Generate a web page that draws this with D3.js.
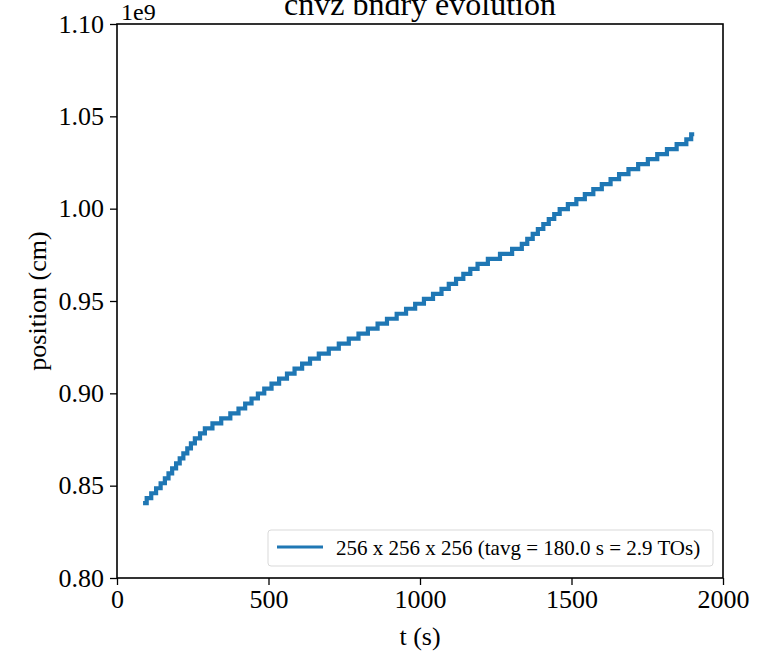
<!DOCTYPE html>
<html>
<head>
<meta charset="utf-8">
<script src="https://cdn.jsdelivr.net/npm/d3@7"></script>
<style>
  body { margin: 0; background: #fff; }
  text { font-family: "Liberation Serif", "DejaVu Serif", serif; fill: #000; }
</style>
</head>
<body>
<div id="chart"></div>
<script>
// chart data (position in units of 1e9 cm)
const tValues = [86, 98, 113, 129, 144, 158, 170, 182, 195, 207, 219, 232, 244, 257, 274, 290,
  315, 344, 374, 401, 423, 444, 465, 486, 510, 535, 561, 586, 611, 637, 666, 699, 732,
  765, 797, 828, 860, 891, 923, 954, 984, 1013, 1043, 1071, 1095, 1119, 1143, 1166, 1190,
  1224, 1264, 1304, 1336, 1354, 1372, 1389, 1407, 1425, 1443, 1461, 1488, 1516, 1544,
  1572, 1600, 1629, 1657, 1688, 1720, 1752, 1783, 1815, 1847, 1879, 1895, 1905];
const posValues = [0.8405, 0.8432, 0.8459, 0.8486, 0.8513, 0.8540, 0.8567, 0.8594, 0.8621,
  0.8648, 0.8675, 0.8702, 0.8729, 0.8756, 0.8783, 0.8810, 0.8837, 0.8864, 0.8891, 0.8918,
  0.8945, 0.8972, 0.8999, 0.9026, 0.9053, 0.9080, 0.9107, 0.9134, 0.9161, 0.9188, 0.9215,
  0.9242, 0.9269, 0.9296, 0.9323, 0.9350, 0.9377, 0.9404, 0.9431, 0.9458, 0.9485, 0.9512,
  0.9539, 0.9566, 0.9593, 0.9620, 0.9647, 0.9674, 0.9701, 0.9728, 0.9755, 0.9782, 0.9809,
  0.9836, 0.9863, 0.9890, 0.9917, 0.9944, 0.9971, 0.9998, 1.0025, 1.0052, 1.0079, 1.0106,
  1.0133, 1.0160, 1.0187, 1.0214, 1.0241, 1.0268, 1.0295, 1.0322, 1.0349, 1.0376, 1.0403, 1.0403];
const xTicks = [0, 500, 1000, 1500, 2000];
const yTicks = [0.80, 0.85, 0.90, 0.95, 1.00, 1.05, 1.10];
const legendLabel = "256 x 256 x 256 (tavg = 180.0 s = 2.9 TOs)";

const width = 777, height = 657;
const margin = { left: 117, right: 54, top: 24, bottom: 79 };

const svg = d3.select("#chart").append("svg")
  .attr("width", width)
  .attr("height", height);

const x = d3.scaleLinear().domain([0, 2000]).range([margin.left, width - margin.right]);
const y = d3.scaleLinear().domain([0.80, 1.10]).range([height - margin.bottom, margin.top]);

const data = tValues.map((t, i) => ({ t, v: posValues[i] }));

const line = d3.line()
  .x(d => x(d.t))
  .y(d => y(d.v))
  .curve(d3.curveStepAfter);

svg.append("path")
  .datum(data)
  .attr("fill", "none")
  .attr("stroke", "#1f77b4")
  .attr("stroke-width", 4.2)
  .attr("d", line);

// axes
const xAxis = svg.append("g")
  .attr("transform", `translate(0,${height - margin.bottom})`)
  .call(d3.axisBottom(x).tickValues(xTicks).tickSize(7).tickPadding(5).tickFormat(d3.format("d")));
const yAxis = svg.append("g")
  .attr("transform", `translate(${margin.left},0)`)
  .call(d3.axisLeft(y).tickValues(yTicks).tickSize(7).tickPadding(6).tickFormat(d3.format(".2f")));

[xAxis, yAxis].forEach(g => {
  g.select(".domain").remove();
  g.selectAll(".tick line").attr("stroke", "#000").attr("stroke-width", 1.3);
  g.selectAll(".tick text").attr("font-size", 26).attr("font-family", "Liberation Serif");
});

// frame
svg.append("rect")
  .attr("x", margin.left).attr("y", margin.top)
  .attr("width", width - margin.left - margin.right)
  .attr("height", height - margin.top - margin.bottom)
  .attr("fill", "none").attr("stroke", "#000").attr("stroke-width", 1.6);

// labels
svg.append("text")
  .attr("x", (margin.left + width - margin.right) / 2).attr("y", 15)
  .attr("text-anchor", "middle").attr("font-size", 32)
  .text("cnvz bndry evolution");

svg.append("text")
  .attr("x", margin.left + 4).attr("y", 20)
  .attr("font-size", 24)
  .text("1e9");

svg.append("text")
  .attr("x", (margin.left + width - margin.right) / 2).attr("y", 645)
  .attr("text-anchor", "middle").attr("font-size", 26)
  .text("t (s)");

svg.append("text")
  .attr("transform", `translate(46,${(margin.top + height - margin.bottom) / 2}) rotate(-90)`)
  .attr("text-anchor", "middle").attr("font-size", 26)
  .text("position (cm)");

// legend
const lg = svg.append("g").attr("transform", "translate(268,530)");
lg.append("rect")
  .attr("width", 445).attr("height", 36).attr("rx", 3)
  .attr("fill", "#fff").attr("fill-opacity", 0.8)
  .attr("stroke", "#d9d9d9").attr("stroke-width", 1);
lg.append("line")
  .attr("x1", 9).attr("x2", 55).attr("y1", 17).attr("y2", 17)
  .attr("stroke", "#1f77b4").attr("stroke-width", 2.8);
lg.append("text")
  .attr("x", 68).attr("y", 25).attr("font-size", 21)
  .text(legendLabel);
</script>
</body>
</html>
